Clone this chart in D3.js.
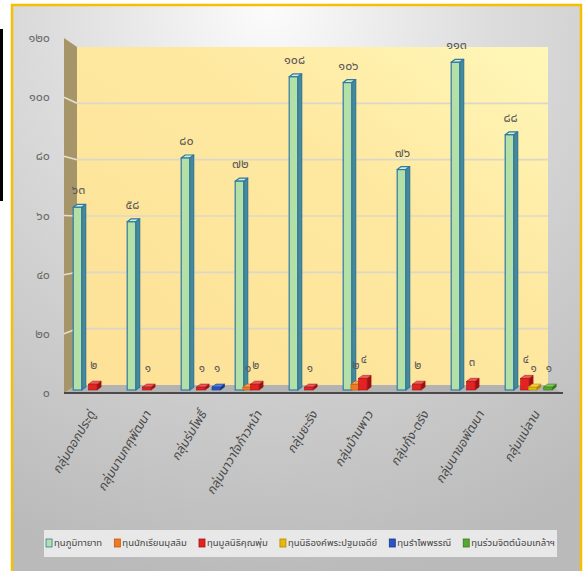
<!DOCTYPE html>
<html><head><meta charset="utf-8">
<script src="https://cdn.jsdelivr.net/npm/d3@7"></script>
<style>
body{margin:0;background:#fff}
svg{display:block}
text{font-family:"Noto Sans Thai","Noto Sans","DejaVu Sans",sans-serif}
</style>
</head><body><svg id="c" width="585" height="571"></svg>
<script>
// ---------- data ----------
const categories = ["กลุ่มดอกประดู่","กลุ่มนานกศุพัฒนา","กลุ่มร่มโพธิ์","กลุ่มนาวาใจก้าวหน้า","กลุ่มยะรัง","กลุ่มบ้านพาว","กลุ่มกุ้ง-ตรัง","กลุ่มนาขอพัฒนา","กลุ่มแม่ลาน"];
const seriesNames = ["ทุนภูมิทายาท","ทุนนักเรียนมุสลิม","ทุนมูลนิธิคุณพุ่ม","ทุนนิธิองค์พระปฐมเจดีย์","ทุนรำไพพรรณี","ทุนร่วมจิตต์น้อมเกล้าฯ"];
const phumiValues      = [63,58,80,72,108,106,76,113,88];
const muslimValues     = [0,0,0,1,0,2,0,0,0];
const khunPhumValues   = [2,1,1,2,1,4,2,3,4];
const phraPathomValues = [0,0,0,0,0,0,0,0,1];
const rampaiValues     = [0,0,1,0,0,0,0,0,0];
const ruamjitValues    = [0,0,0,0,0,0,0,0,1];
const yTicks = [0,20,40,60,80,100,120];

const seriesValues = [phumiValues, muslimValues, khunPhumValues, phraPathomValues, rampaiValues, ruamjitValues];
const seriesColors = [
  {front:"#b2e0a6", side:"#4a8a8c", top:"#d2f0c8", stroke:"#2f78a8"},
  {front:"#ee7a22", side:"#b4540e", top:"#f6a45a", stroke:"#c05a10"},
  {front:"#e42222", side:"#9e1010", top:"#f05a5a", stroke:"#a01515"},
  {front:"#e9b90a", side:"#b08a00", top:"#f4d050", stroke:"#b08a00"},
  {front:"#2856c4", side:"#16368a", top:"#5a80dc", stroke:"#16368a"},
  {front:"#58a636", side:"#357818", top:"#86c866", stroke:"#357818"}
];

const thai = s => String(s).replace(/[0-9]/g, d => "๐๑๒๓๔๕๖๗๘๙"[+d]);

// ---------- scales ----------
const xBand  = d3.scaleBand().domain(categories).range([64, 550]);
const xLabel = d3.scaleBand().domain(categories).range([68, 568]);
const xSlot  = d3.scaleBand().domain(d3.range(6)).range([9.6, 55.8]);
const yBar   = d3.scaleLinear().domain([0,120]).range([390, 42]);
const yFront = d3.scaleLinear().domain([0,120]).range([393, 38]);
const yBack  = d3.scaleLinear().domain([0,120]).range([385, 47]);

const svg = d3.select("#c");
const defs = svg.append("defs");
const bg = defs.append("radialGradient").attr("id","bg").attr("cx","0.45").attr("cy","0.0").attr("r","1.0");
bg.append("stop").attr("offset","0").attr("stop-color","#fcfcfc");
bg.append("stop").attr("offset","0.4").attr("stop-color","#dcdcdc");
bg.append("stop").attr("offset","1").attr("stop-color","#bababa");
const wall = defs.append("linearGradient").attr("id","wall").attr("x1","0").attr("y1","1").attr("x2","1").attr("y2","0");
wall.append("stop").attr("offset","0").attr("stop-color","#fde197");
wall.append("stop").attr("offset","0.6").attr("stop-color","#fee8a0");
wall.append("stop").attr("offset","1").attr("stop-color","#fff7b8");

// background panel + frame
svg.append("rect").attr("x",0).attr("y",0).attr("width",585).attr("height",571).attr("fill","#fff");
svg.append("rect").attr("x",0).attr("y",29).attr("width",3).attr("height",172).attr("fill","#000");
svg.append("rect").attr("x",12).attr("y",5).attr("width",569).attr("height",580)
  .attr("fill","url(#bg)").attr("stroke","#f5c000").attr("stroke-width",2.5);

// back wall
const x0f = 64, x0b = 77, x1b = 548, x1f = 563;
svg.append("rect").attr("x",x0b).attr("y",yBack(120)).attr("width",x1b-x0b).attr("height",yBack(0)-yBack(120)).attr("fill","url(#wall)");
// left wall
svg.append("polygon").attr("points",[[x0f,yFront(120)],[x0b,yBack(120)],[x0b,yBack(0)],[x0f,yFront(0)]].join(" ")).attr("fill","#a7956a");
// gridlines
svg.append("g").selectAll("line").data(yTicks.filter(t=>t>0 && t<120)).join("line")
  .attr("x1",x0b).attr("x2",x1b).attr("y1",d=>yBack(d)).attr("y2",d=>yBack(d))
  .attr("stroke","#dcd8c8").attr("stroke-width",1.6);
svg.append("g").selectAll("line").data(yTicks.filter(t=>t>0 && t<120)).join("line")
  .attr("x1",x0f).attr("x2",x0b).attr("y1",d=>yFront(d)).attr("y2",d=>yBack(d))
  .attr("stroke","#e6e0cc").attr("stroke-width",1.6);
// floor
svg.append("polygon").attr("points",[[x0f,yFront(0)],[x0b,yBack(0)],[x1b,yBack(0)],[x1f,yFront(0)]].join(" ")).attr("fill","#b3b3b3");
svg.append("line").attr("x1",x0f).attr("x2",x1f).attr("y1",yFront(0)).attr("y2",yFront(0)).attr("stroke","#4a4a4a").attr("stroke-width",2.2);

// y tick labels
svg.append("g").selectAll("text").data(yTicks).join("text")
  .attr("x",50).attr("y",d=>yFront(d)+4).attr("text-anchor","end")
  .attr("font-size",12.5).attr("fill","#6a6a6a").text(d=>thai(d));

// bars
const W = 8.5, DX = 4, DY = 3;
const base = yBar(0);
const barData = [];
categories.forEach((c,i)=>{
  seriesValues.forEach((vals,s)=>{
    if (vals[i] > 0) barData.push({c, s, v: vals[i]});
  });
});
const bars = svg.append("g").selectAll("g").data(barData).join("g");
bars.each(function(d){
  const g = d3.select(this);
  const col = seriesColors[d.s];
  const cx = xBand(d.c) + xSlot(d.s) + xSlot.bandwidth()/2;
  const x = cx - W/2, y = yBar(d.v);
  const sw = d.s===0 ? 1.2 : 0.6;
  g.append("polygon").attr("points",[[x+W,y],[x+W+DX,y-DY],[x+W+DX,base-DY],[x+W,base]].join(" "))
    .attr("fill",col.side).attr("stroke",col.stroke).attr("stroke-width",sw).attr("stroke-linejoin","round");
  g.append("polygon").attr("points",[[x,y],[x+DX,y-DY],[x+W+DX,y-DY],[x+W,y]].join(" "))
    .attr("fill",col.top).attr("stroke",col.stroke).attr("stroke-width",sw).attr("stroke-linejoin","round");
  g.append("rect").attr("x",x).attr("y",y).attr("width",W).attr("height",base-y)
    .attr("fill",col.front).attr("stroke",col.stroke).attr("stroke-width",sw);
});
// value labels
svg.append("g").selectAll("text").data(barData).join("text")
  .attr("x",d=>xBand(d.c)+xSlot(d.s)+xSlot.bandwidth()/2+1)
  .attr("y",d=>yBar(d.v)-(d.s===0?13:15))
  .attr("text-anchor","middle").attr("font-size",d=>d.s===0?12.5:11.5).attr("fill","#595959")
  .text(d=>thai(d.v));

// category labels
svg.append("g").selectAll("text").data(categories).join("text")
  .attr("transform",d=>`translate(${xLabel(d)+xLabel.bandwidth()/2},${414}) rotate(-59) skewX(-8)`)
  .attr("text-anchor","end").attr("font-size",12.5).attr("fill","#4a4a4a")
  .text(d=>d);

// legend
const lg = svg.append("g");
lg.append("rect").attr("x",44).attr("y",530).attr("width",513).attr("height",27).attr("fill","#e8e8e8");
const items = lg.selectAll("g").data(seriesNames).join("g");
items.append("rect").attr("width",6).attr("height",8).attr("y",-7)
  .attr("fill",(d,i)=>seriesColors[i].front).attr("stroke",(d,i)=>seriesColors[i].stroke).attr("stroke-width",0.8);
items.append("text").attr("x",8).attr("y",0).attr("font-size",9.5).attr("fill","#444").text(d=>d);
let widths = [];
items.each(function(){ widths.push(this.getBBox().width); });
const gap = 12;
const total = d3.sum(widths) + gap*(widths.length-1);
let cur = 44 + (513 - total)/2;
items.attr("transform",(d,i)=>{ const t = `translate(${cur},${546})`; cur += widths[i] + gap; return t; });
</script>
</body></html>
